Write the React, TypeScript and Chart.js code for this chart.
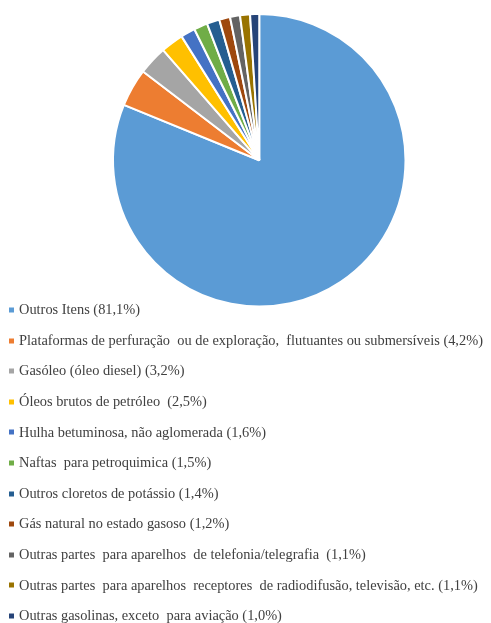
import React, { useEffect, useRef } from "react";
import { Chart, registerables } from "chart.js";

Chart.register(...registerables);

const labels = [
  "Outros Itens (81,1%)",
  "Plataformas de perfuração  ou de exploração,  flutuantes ou submersíveis (4,2%)",
  "Gasóleo (óleo diesel) (3,2%)",
  "Óleos brutos de petróleo  (2,5%)",
  "Hulha betuminosa, não aglomerada (1,6%)",
  "Naftas  para petroquimica (1,5%)",
  "Outros cloretos de potássio (1,4%)",
  "Gás natural no estado gasoso (1,2%)",
  "Outras partes  para aparelhos  de telefonia/telegrafia  (1,1%)",
  "Outras partes  para aparelhos  receptores  de radiodifusão, televisão, etc. (1,1%)",
  "Outras gasolinas, exceto  para aviação (1,0%)",
];

const values = [81.1, 4.2, 3.2, 2.5, 1.6, 1.5, 1.4, 1.2, 1.1, 1.1, 1.0];

const colors = [
  "#5B9BD5",
  "#ED7D31",
  "#A5A5A5",
  "#FFC000",
  "#4472C4",
  "#70AD47",
  "#255E91",
  "#9E480E",
  "#636363",
  "#997300",
  "#264478",
];

const FONT = '14.4px "Liberation Serif", "Times New Roman", Tinos';

const legendPlugin = {
  id: "serifLegend",
  afterDraw(chart: any) {
    const ctx = chart.ctx as CanvasRenderingContext2D;
    const items = chart.legend ? chart.legend.legendItems : [];
    ctx.save();
    ctx.font = FONT;
    ctx.textBaseline = "middle";
    ctx.textAlign = "left";
    items.forEach((it: any, i: number) => {
      const y = 310 + i * 30.6;
      ctx.fillStyle = it.fillStyle;
      ctx.fillRect(9, Math.round(y) - 2.5, 5, 5);
      ctx.fillStyle = "#404040";
      ctx.fillText(it.text, 19, y + 0.5);
    });
    ctx.restore();
  },
};

export default function App() {
  const ref = useRef<HTMLCanvasElement>(null);

  useEffect(() => {
    if (!ref.current) return;
    const chart = new Chart(ref.current, {
      type: "pie",
      data: {
        labels,
        datasets: [
          {
            data: values,
            backgroundColor: colors,
            borderColor: "#ffffff",
            borderWidth: 2,
          },
        ],
      },
      options: {
        responsive: false,
        animation: false,
        layout: { padding: { left: 112, right: 84.5, top: 13, bottom: 12.4 + 303 } },
        plugins: {
          legend: { display: false },
          tooltip: { enabled: false },
        },
      },
      plugins: [legendPlugin],
    });
    let alive = true;
    if ((document as any).fonts && (document as any).fonts.load) {
      (document as any).fonts.load(FONT).then(() => {
        if (alive) chart.draw();
      });
    }
    return () => {
      alive = false;
      chart.destroy();
    };
  }, []);

  return (
    <div style={{ position: "absolute", left: 0, top: 0, width: 491, height: 623, background: "#fff" }}>
      <canvas ref={ref} width={491} height={623} style={{ position: "absolute", left: 0, top: 0 }} />
    </div>
  );
}
